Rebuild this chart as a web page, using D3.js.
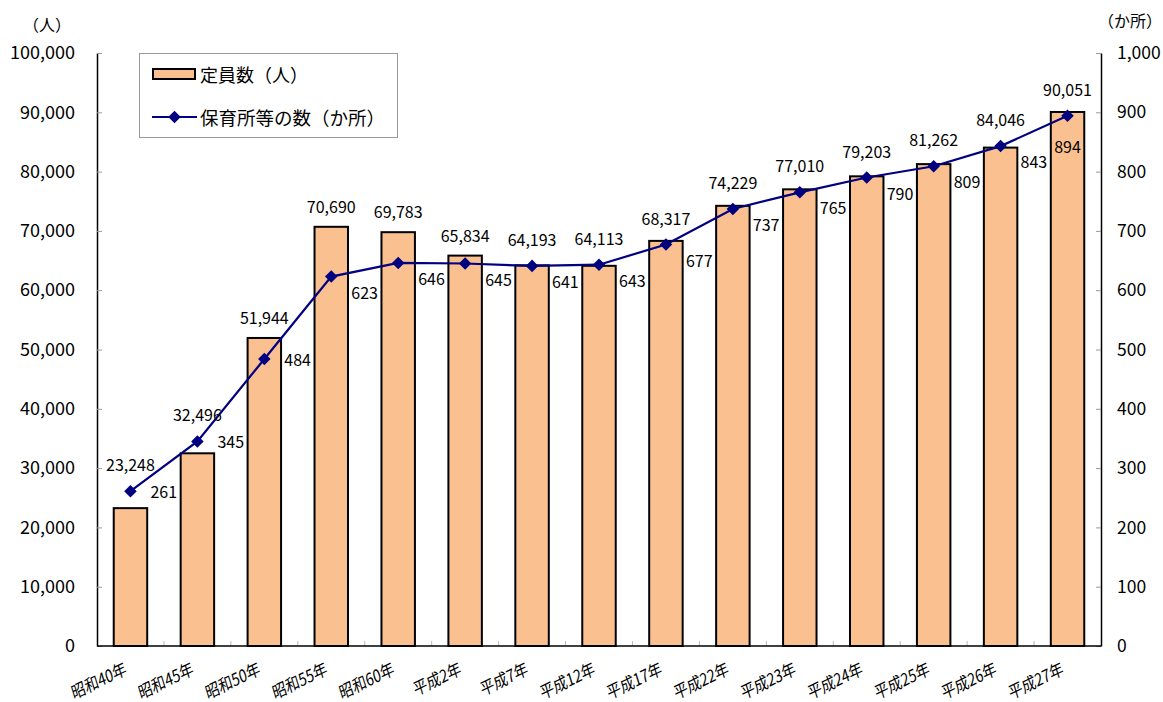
<!DOCTYPE html>
<html>
<head>
<meta charset="utf-8">
<script src="https://cdn.jsdelivr.net/npm/d3@7"></script>
<style>
  body { margin: 0; background: #fff; }
  text { font-family: "Noto Sans CJK JP", sans-serif; fill: #000; }
</style>
</head>
<body>
<div class="display"></div>
<script>
// 保育所等の定員数と施設数の推移

const WIDTH = 1163;
const HEIGHT = 702;

const years = ['昭和40年', '昭和45年', '昭和50年', '昭和55年', '昭和60年', '平成2年', '平成7年', '平成12年',
  '平成17年', '平成22年', '平成23年', '平成24年', '平成25年', '平成26年', '平成27年'];
const capacity = [23248, 32496, 51944, 70690, 69783, 65834, 64193, 64113, 68317, 74229, 77010, 79203, 81262, 84046, 90051];
const facilities = [261, 345, 484, 623, 646, 645, 641, 643, 677, 737, 765, 790, 809, 843, 894];
// where each facility label sits relative to its marker
const facilityLabelPlace = ['right', 'right', 'right', 'rightBelow', 'rightBelow', 'rightBelow', 'rightBelow', 'rightBelow',
  'rightBelow', 'rightBelow', 'rightBelow', 'rightBelow', 'rightBelow', 'rightBelow', 'below'];
const leftTicks = [0, 10000, 20000, 30000, 40000, 50000, 60000, 70000, 80000, 90000, 100000];
const rightTicks = [0, 100, 200, 300, 400, 500, 600, 700, 800, 900, 1000];

const plot = { left: 97, right: 1101, top: 53, bottom: 646 };

const svg = d3.select('.display')
  .append('svg')
  .attr('width', WIDTH)
  .attr('height', HEIGHT);

const x = d3.scaleBand()
  .domain(years)
  .range([plot.left, plot.right])
  .paddingInner(0.5)
  .paddingOuter(0.25);

const yLeft = d3.scaleLinear().domain([0, 100000]).range([plot.bottom, plot.top]);
const yRight = d3.scaleLinear().domain([0, 1000]).range([plot.bottom, plot.top]);

const fmt = d3.format(',');

// axes
const leftAxis = svg.append('g')
  .attr('transform', `translate(${plot.left},0)`)
  .call(d3.axisLeft(yLeft).tickValues(leftTicks).tickFormat(fmt).tickSizeInner(-5).tickSizeOuter(0).tickPadding(22));
const rightAxis = svg.append('g')
  .attr('transform', `translate(${plot.right},0)`)
  .call(d3.axisRight(yRight).tickValues(rightTicks).tickFormat(fmt).tickSizeInner(-5).tickSizeOuter(0).tickPadding(16));

[leftAxis, rightAxis].forEach(a => {
  a.select('.domain').attr('stroke', '#000').attr('stroke-width', 1.5);
  a.selectAll('.tick line').attr('stroke', '#999');
  a.selectAll('.tick text').attr('font-size', 18).attr('font-family', '"Noto Sans CJK JP", sans-serif');
});
rightAxis.selectAll('.tick text').attr('font-size', 17.5);

// category boundary ticks on the x axis
const bottomAxis = svg.append('g');
bottomAxis.selectAll('line')
  .data(d3.range(1, years.length))
  .enter()
  .append('line')
  .attr('x1', i => plot.left + i * x.step())
  .attr('x2', i => plot.left + i * x.step())
  .attr('y1', plot.bottom)
  .attr('y2', plot.bottom - 5)
  .attr('stroke', '#bbb');

// bars
svg.append('g')
  .selectAll('rect')
  .data(capacity)
  .enter()
  .append('rect')
  .attr('x', (d, i) => x(years[i]))
  .attr('y', d => yLeft(d))
  .attr('width', x.bandwidth())
  .attr('height', d => plot.bottom - yLeft(d))
  .attr('fill', '#FAC090')
  .attr('stroke', '#000')
  .attr('stroke-width', 2);

bottomAxis.append('line')
  .attr('x1', plot.left).attr('x2', plot.right)
  .attr('y1', plot.bottom).attr('y2', plot.bottom)
  .attr('stroke', '#000').attr('stroke-width', 1.5);

// x labels, slanted and a little condensed like the original
bottomAxis.selectAll('text')
  .data(years)
  .enter()
  .append('text')
  .attr('transform', d => `translate(${x(d) + x.bandwidth() / 2 - 5},${plot.bottom + 21}) scale(0.8,1) rotate(-21)`)
  .attr('text-anchor', 'end')
  .attr('dominant-baseline', 'central')
  .attr('font-size', 17.5)
  .text(d => d);

// facilities line
const cx = i => x(years[i]) + x.bandwidth() / 2;
const line = d3.line()
  .x((d, i) => cx(i))
  .y(d => yRight(d));

svg.append('path')
  .datum(facilities)
  .attr('d', line)
  .attr('fill', 'none')
  .attr('stroke', '#000080')
  .attr('stroke-width', 2.2);

svg.append('g')
  .selectAll('path')
  .data(facilities)
  .enter()
  .append('path')
  .attr('d', d3.symbol(d3.symbolDiamond2, 100))
  .attr('transform', (d, i) => `translate(${cx(i)},${yRight(d)})`)
  .attr('fill', '#000080');

// capacity labels above bars (lifted above the marker where the line is higher)
svg.append('g')
  .selectAll('text')
  .data(capacity)
  .enter()
  .append('text')
  .attr('x', (d, i) => cx(i))
  .attr('y', (d, i) => Math.min(yLeft(d), yRight(facilities[i]) - 6) - 21)
  .attr('text-anchor', 'middle')
  .attr('dominant-baseline', 'central')
  .attr('font-size', 16)
  .text(d => fmt(d));

// facility labels
const placeOffset = {
  right: { dx: 20, dy: 0, anchor: 'start' },
  rightBelow: { dx: 20, dy: 15, anchor: 'start' },
  below: { dx: 0, dy: 30, anchor: 'middle' }
};
svg.append('g')
  .selectAll('text')
  .data(facilities)
  .enter()
  .append('text')
  .attr('x', (d, i) => cx(i) + placeOffset[facilityLabelPlace[i]].dx)
  .attr('y', (d, i) => yRight(d) + placeOffset[facilityLabelPlace[i]].dy)
  .attr('text-anchor', (d, i) => placeOffset[facilityLabelPlace[i]].anchor)
  .attr('dominant-baseline', 'central')
  .attr('font-size', 16)
  .text(d => d);

// axis unit titles
svg.append('text')
  .attr('x', 47).attr('y', 24)
  .attr('text-anchor', 'middle').attr('dominant-baseline', 'central')
  .attr('font-size', 16)
  .text('（人）');
svg.append('text')
  .attr('x', 1162).attr('y', 20)
  .attr('text-anchor', 'end').attr('dominant-baseline', 'central')
  .attr('font-size', 16)
  .text('（か所）');

// legend
const legend = svg.append('g');
legend.append('rect')
  .attr('x', 139.5).attr('y', 53.5)
  .attr('width', 258).attr('height', 84)
  .attr('fill', '#fff')
  .attr('stroke', '#999');
legend.append('rect')
  .attr('x', 153).attr('y', 69)
  .attr('width', 42).attr('height', 10)
  .attr('fill', '#FAC090')
  .attr('stroke', '#000')
  .attr('stroke-width', 2);
legend.append('text')
  .attr('x', 200).attr('y', 74)
  .attr('dominant-baseline', 'central')
  .attr('font-size', 18)
  .text('定員数（人）');
legend.append('line')
  .attr('x1', 152).attr('x2', 197)
  .attr('y1', 117).attr('y2', 117)
  .attr('stroke', '#000080').attr('stroke-width', 2.2);
legend.append('path')
  .attr('d', d3.symbol(d3.symbolDiamond2, 100))
  .attr('transform', 'translate(174.5,117)')
  .attr('fill', '#000080');
legend.append('text')
  .attr('x', 200).attr('y', 117)
  .attr('dominant-baseline', 'central')
  .attr('font-size', 18.5)
  .text('保育所等の数（か所）');
</script>
</body>
</html>
